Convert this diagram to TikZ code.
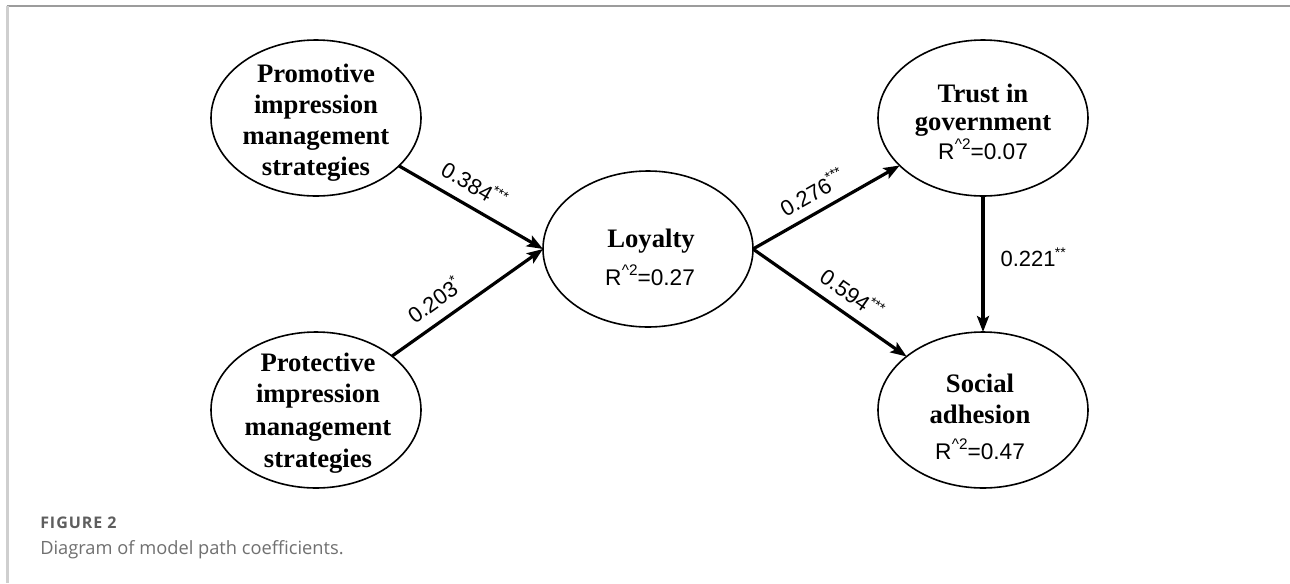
\documentclass[tikz,border=0pt]{standalone}
\usepackage{fontspec}
\setmainfont{Liberation Serif}
\newfontfamily\arialf{Liberation Sans}
\newfontfamily\capfont{Open Sans}
\newfontfamily\capfontsp[LetterSpace=6]{Open Sans}
\usetikzlibrary{shapes.geometric,arrows.meta}
\definecolor{framegray}{HTML}{9C9C9C}
\definecolor{framelight}{HTML}{CFCFCF}
\definecolor{capgray}{HTML}{5E5E5E}
\definecolor{captext}{HTML}{707070}
\newcommand{\sigstars}[1]{\kern-0.6pt\raisebox{0.42em}{\fontsize{10.5}{10.5}\selectfont #1}}
\newcommand{\rsqtxt}[1]{R\kern0.3pt\raisebox{0.42em}{\fontsize{11.5}{11.5}\selectfont\textasciicircum2}=#1}
\tikzset{
  latent/.style={ellipse, draw=black, line width=1.2pt, minimum width=157.5pt, minimum height=117pt, inner sep=0pt, outer sep=0pt},
  ttl/.style={anchor=base, inner sep=0pt, font=\bfseries\fontsize{20}{24}\selectfont},
  rsq/.style={anchor=base, inner sep=0pt, font=\arialf\fontsize{17}{20}\selectfont},
  coef/.style={inner sep=0pt, font=\arialf\fontsize{16.5}{20}\selectfont},
  arr/.style={line width=2.4pt, -{Stealth[length=12pt, width=9pt, inset=2.5pt]}}
}
\begin{document}
\begin{tikzpicture}[x=0.75pt, y=-0.75pt]
\useasboundingbox (0,0) rectangle (1290,583);
\fill[white] (0,0) rectangle (1290,583);
% frame
\draw[framegray, line width=1.1pt] (6.5,6) -- (1290,6);
\draw[framelight, line width=1.8pt] (7.5,6) -- (7.5,583);

% latent variables
\node[latent] (prom) at (316,118) {};
\node[latent] (prot) at (316,410) {};
\node[latent] (loy) at (648,249) {};
\node[latent] (trust) at (983,118) {};
\node[latent] (social) at (983,410) {};

% texts
\node[ttl] (promA) at (316,82) {Promotive};
\node[ttl] (promB) at (316,113) {impression};
\node[ttl] (promC) at (316,144) {management};
\node[ttl] (promD) at (316,175) {strategies};

\node[ttl] (protA) at (318,371) {Protective};
\node[ttl] (protB) at (318,402) {impression};
\node[ttl] (protC) at (318,435) {management};
\node[ttl] (protD) at (318,467) {strategies};

\node[ttl] (loyA) at (651,247) {Loyalty};
\node[rsq] (loyB) at (650,285) {\rsqtxt{0.27}};

\node[ttl] (trustA) at (983,102) {Trust in};
\node[ttl] (trustB) at (983,130) {government};
\node[rsq] (trustC) at (983,159) {\rsqtxt{0.07}};

\node[ttl] (socA) at (980,392) {Social};
\node[ttl] (socB) at (980,423) {adhesion};
\node[rsq] (socC) at (980,459) {\rsqtxt{0.47}};

% paths
\draw[arr] (prom) -- (loy.west) node[coef, sloped, pos=0.45, above=8pt] (c1) {0.384\sigstars{***}};
\draw[arr] (prot) -- (loy.west) node[coef, sloped, pos=0.36, above=8pt] (c2) {0.203\sigstars{*}};
\draw[arr] (loy.east) -- (trust) node[coef, sloped, pos=0.47, above=7pt] (c3) {0.276\sigstars{***}};
\draw[arr] (loy.east) -- (social) node[coef, sloped, pos=0.57, above=7pt] (c4) {0.594\sigstars{***}};
\draw[arr] (trust.south) -- (social.north) node[coef, pos=0.45, right=12pt] (c5) {0.221\sigstars{**}};

% caption
\node[anchor=base west, inner sep=0pt, font=\capfontsp\bfseries\fontsize{12}{14}\selectfont, text=capgray] (figlab) at (40,528) {FIGURE 2};
\node[anchor=base west, inner sep=0pt, font=\capfont\fontsize{13.7}{16}\selectfont, text=captext] (caption) at (40,554) {Diagram of model path coefficients.};
\end{tikzpicture}
\end{document}
